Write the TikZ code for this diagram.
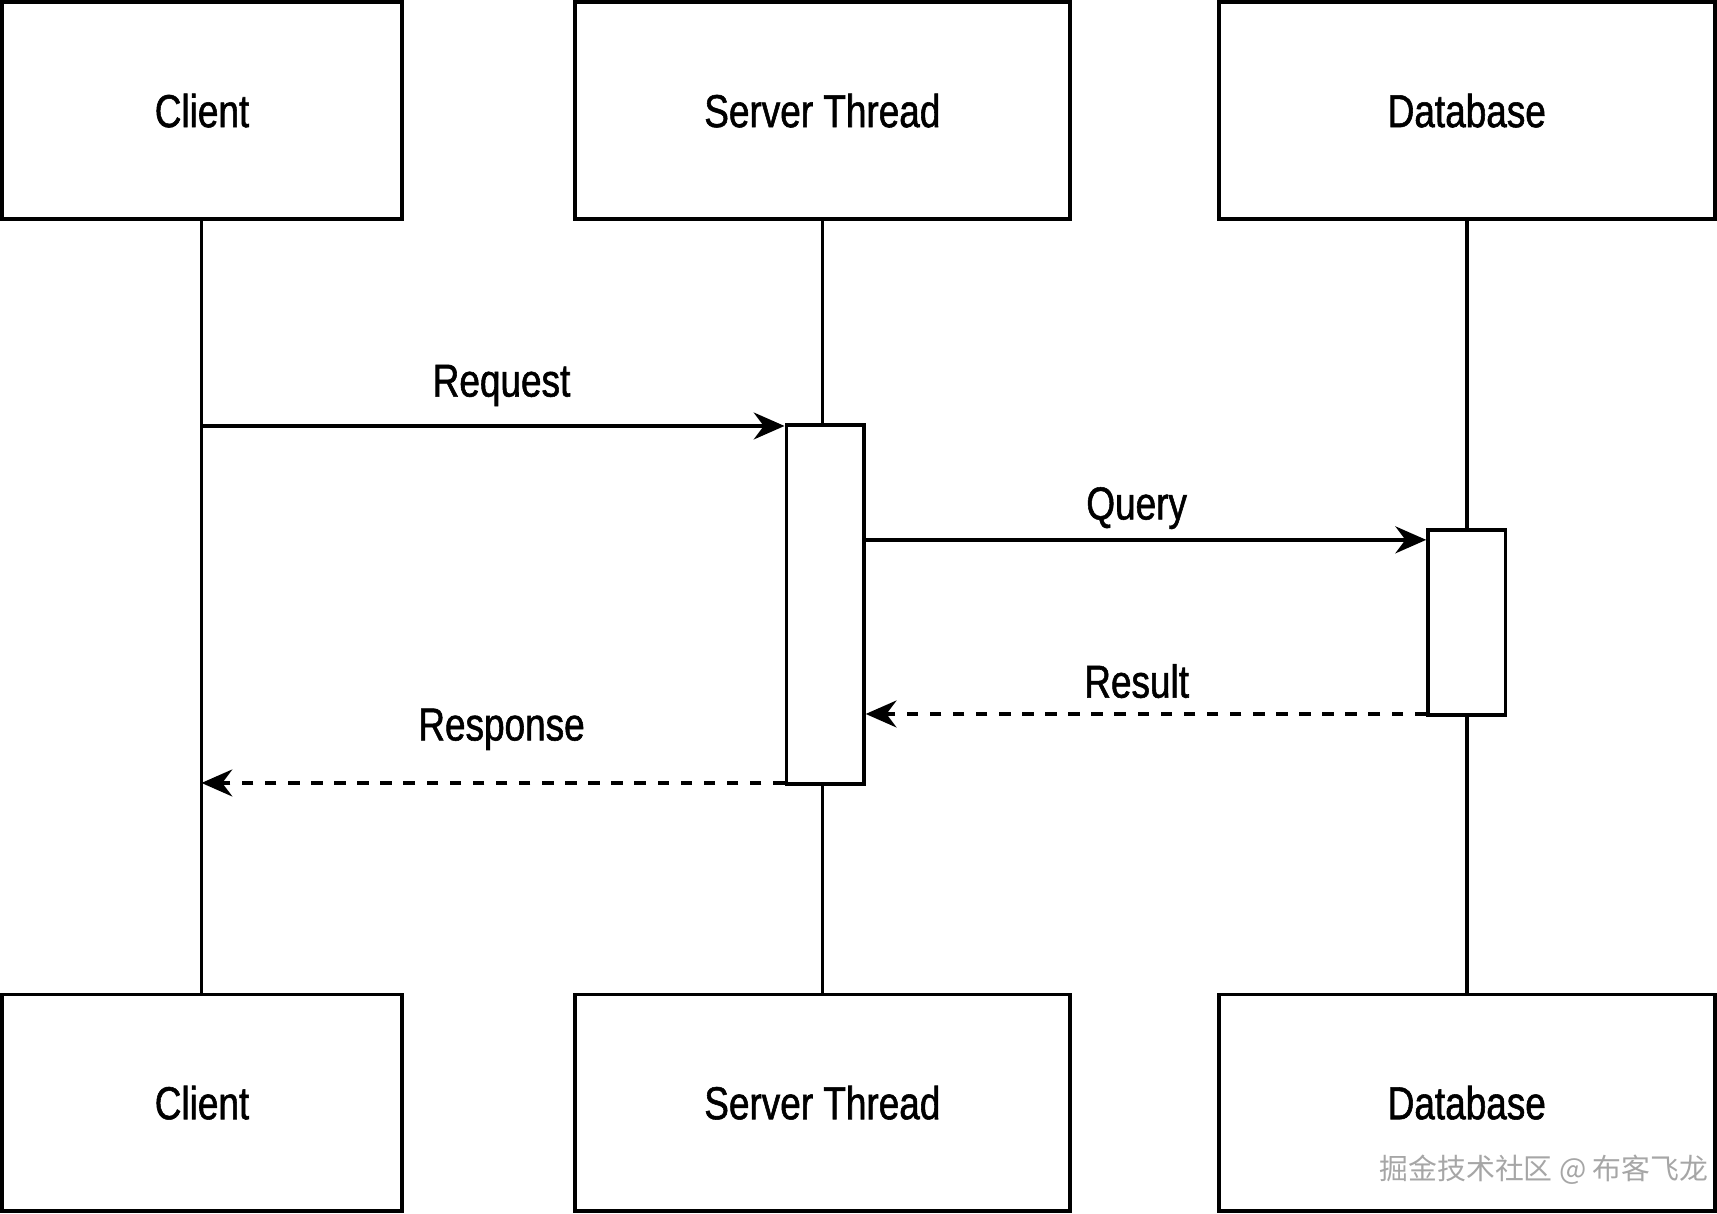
\documentclass[tikz,border=0pt]{standalone}
\usepackage{fontspec}
\setmainfont{Liberation Sans}[FakeStretch=0.8, FakeBold=1.2]
\newfontfamily\cjk{Noto Sans CJK SC}
\usetikzlibrary{arrows.meta}
\tikzstyle{objbox} = [draw=black, line width=0.9pt, rectangle, minimum width=3.65cm, minimum height=1.98cm, font=\fontsize{12}{14}\selectfont]
\tikzstyle{actbox} = [draw=black, line width=0.9pt, fill=white, rectangle, minimum width=0.71cm]
\tikzstyle{msg} = [line width=0.9pt, -{Stealth[length=8pt,width=7pt]}]
\tikzstyle{lbl} = [font=\fontsize{12}{14}\selectfont]

\begin{document}
\begin{tikzpicture}[y=-1cm]
    \useasboundingbox (0,0) rectangle (15.68,11.08);
    % top and bottom boxes
    \node [objbox] (clientT) at (1.845,1.01) {Client};
    \node [objbox, minimum width=4.52cm] (serverT) at (7.51,1.01) {Server Thread};
    \node [objbox, minimum width=4.53cm] (dbT) at (13.395,1.01) {Database};
    \node [objbox] (clientB) at (1.845,10.07) {Client};
    \node [objbox, minimum width=4.52cm] (serverB) at (7.51,10.07) {Server Thread};
    \node [objbox, minimum width=4.53cm] (dbB) at (13.395,10.07) {Database};
    % lifelines
    \draw [line width=0.9pt] (1.84,2.0) -- (1.84,9.08);
    \draw [line width=0.9pt] (serverT.south) -- (serverB.north);
    \draw [line width=0.9pt] (dbT.south) -- (dbB.north);
    % activations
    \node [actbox, minimum height=3.28cm] (srvAct) at (7.535,5.52) {};
    \node [actbox, minimum height=1.69cm] (dbAct) at (13.395,5.685) {};
    \coordinate (reqFrom) at (1.84,3.89);
    \coordinate (respTo) at (1.84,7.15);
    % messages
    \draw [msg] (reqFrom) -- (reqFrom -| srvAct.west);
    \node [lbl] (request) at (4.58,3.52) {Request};
    \draw [msg] (srvAct.east |- 0,4.93) -- (dbAct.west |- 0,4.93);
    \node [lbl] (query) at (10.38,4.64) {Query};
    \draw [msg, dashed] (dbAct.west |- 0,6.52) -- (srvAct.east |- 0,6.52);
    \node [lbl] (result) at (10.38,6.22) {Result};
    \draw [msg, dashed] (srvAct.west |- respTo) -- (respTo);
    \node [lbl] (response) at (4.58,6.66) {Response};
    \node [text=gray!70, font=\cjk\fontsize{7.5}{9}\selectfont] (mark) at (14.1,10.68) {掘金技术社区 @ 布客飞龙};
\end{tikzpicture}
\end{document}
